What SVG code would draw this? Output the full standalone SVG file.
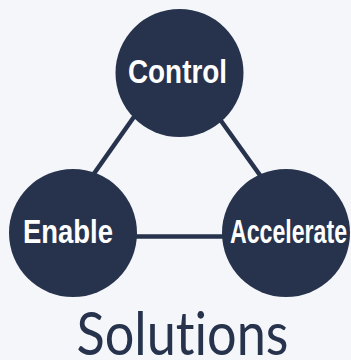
<svg xmlns="http://www.w3.org/2000/svg" width="351" height="360" viewBox="0 0 351 360">
  <style>
    .node { fill: #27334d; }
    .lbl { fill: #ffffff; font-family: "Liberation Sans", Arial, sans-serif; font-weight: bold; font-size: 33px; }
    .edge { stroke: #27334d; stroke-width: 4.5; fill: none; }
    .title { fill: #27334d; font-family: "Lato", "Liberation Sans", sans-serif; font-weight: 400; font-size: 60px; font-variant-ligatures: none; font-feature-settings: "liga" 0, "dlig" 0; }
  </style>
  <rect width="351" height="360" fill="#f4f6f9"/>
  <g id="connectors">
    <line class="edge" x1="136" y1="114" x2="93" y2="175"/>
    <line class="edge" x1="219" y1="118" x2="262" y2="178"/>
    <line class="edge" x1="130" y1="236.5" x2="228" y2="236.5"/>
  </g>
  <g id="control">
    <circle class="node" cx="179.5" cy="73" r="64"/>
    <text class="lbl" x="128" y="82.7" textLength="99" lengthAdjust="spacingAndGlyphs">Control</text>
  </g>
  <g id="enable">
    <circle class="node" cx="73" cy="233" r="64"/>
    <text class="lbl" x="23" y="242.5" textLength="90" lengthAdjust="spacingAndGlyphs">Enable</text>
  </g>
  <g id="accelerate">
    <circle class="node" cx="286" cy="233" r="64"/>
    <text class="lbl" x="230" y="243" textLength="117" lengthAdjust="spacingAndGlyphs">Accelerate</text>
  </g>
  <text class="title" x="76.5" y="355" textLength="212" lengthAdjust="spacingAndGlyphs">Solutions</text>
</svg>
